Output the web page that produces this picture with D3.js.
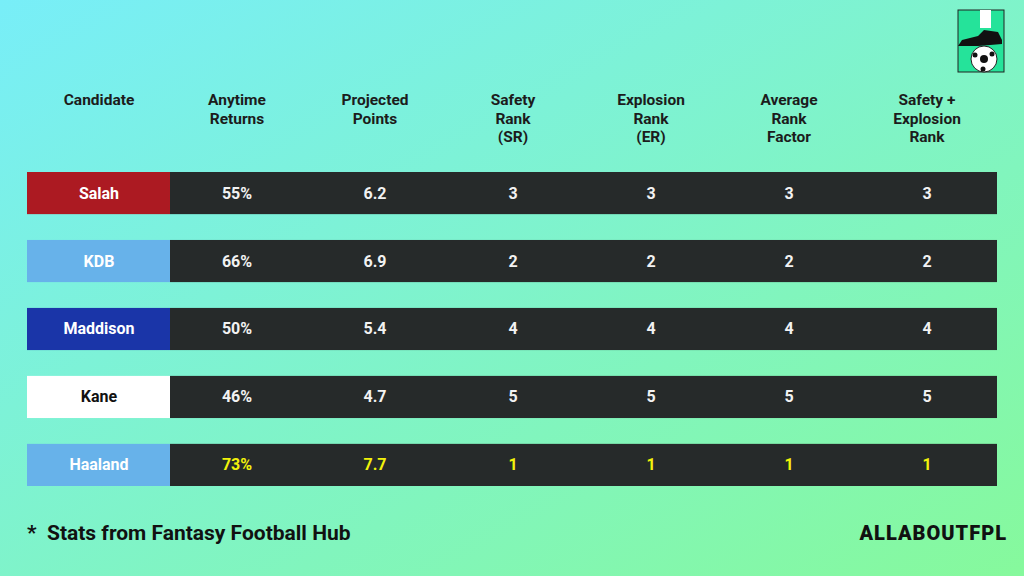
<!DOCTYPE html>
<html lang="en">
<head>
<meta charset="UTF-8">
<script src="https://d3js.org/d3.v7.min.js"></script>
<style>
  body { margin: 0; overflow: hidden; }
  svg { display: block; font-family: Roboto, "Noto Sans", sans-serif; }
</style>
</head>
<body>
<svg id="chart" width="1024" height="576"></svg>
<script>
  // table data
  const headers = [["Candidate"], ["Anytime", "Returns"], ["Projected", "Points"],
    ["Safety", "Rank", "(SR)"], ["Explosion", "Rank", "(ER)"],
    ["Average", "Rank", "Factor"], ["Safety +", "Explosion", "Rank"]];
  const players = ["Salah", "KDB", "Maddison", "Kane", "Haaland"];
  const playerColors = ["#ac1a22", "#67b2ea", "#1a35a8", "#ffffff", "#67b2ea"];
  const playerText = ["#fff", "#fff", "#fff", "#111", "#fff"];
  const returns = ["55%", "66%", "50%", "46%", "73%"];
  const points = ["6.2", "6.9", "5.4", "4.7", "7.7"];
  const safetyRank = [3, 2, 4, 5, 1];
  const explosionRank = [3, 2, 4, 5, 1];
  const avgRank = [3, 2, 4, 5, 1];
  const comboRank = [3, 2, 4, 5, 1];

  const svg = d3.select("#chart");
  const defs = svg.append("defs");
  const grad = defs.append("linearGradient").attr("id", "bg")
    .attr("x1", "0%").attr("y1", "0%").attr("x2", "100%").attr("y2", "100%");
  grad.append("stop").attr("offset", "0%").attr("stop-color", "#78eef8");
  grad.append("stop").attr("offset", "100%").attr("stop-color", "#86f99c");
  svg.append("rect").attr("width", 1024).attr("height", 576).attr("fill", "url(#bg)");

  const x = d3.scalePoint().domain(d3.range(headers.length)).range([99, 927]);
  // band of step 68, height 42
  const y = d3.scaleBand().domain(d3.range(players.length)).range([172, 172 + 68 * 5 - 26]).paddingInner(0.38).paddingOuter(0);

  // headers
  headers.forEach((lines, i) => {
    const t = svg.append("text").attr("x", x(i)).attr("y", 105)
      .attr("text-anchor", "middle").attr("font-size", 15.5).attr("font-weight", 700).attr("fill", "#1c1c1c");
    lines.forEach((l, j) => t.append("tspan").attr("x", x(i)).attr("dy", j ? 18.5 : 0).text(l));
  });

  const rows = svg.selectAll("g.row").data(players).join("g").attr("class", "row")
    .attr("transform", (d, i) => `translate(0,${y(i)})`);
  rows.append("rect").attr("x", 170).attr("width", 827).attr("height", y.bandwidth()).attr("fill", "#262a2a");
  rows.append("rect").attr("x", 27).attr("width", 143).attr("height", y.bandwidth())
    .attr("fill", (d, i) => playerColors[i]);
  rows.append("text").attr("x", x(0)).attr("y", y.bandwidth() / 2 + 5.5)
    .attr("text-anchor", "middle").attr("font-size", 16).attr("font-weight", 700)
    .attr("fill", (d, i) => playerText[i]).text(d => d);

  const cols = [returns, points, safetyRank, explosionRank, avgRank, comboRank];
  cols.forEach((vals, c) => {
    rows.append("text").attr("x", x(c + 1)).attr("y", y.bandwidth() / 2 + 5.5)
      .attr("text-anchor", "middle").attr("font-size", 16).attr("font-weight", 700)
      .attr("fill", (d, i) => players[i] === "Haaland" ? "#f2f20a" : "#f2f2f2")
      .text((d, i) => vals[i]);
  });

  // footer
  svg.append("text").attr("x", 27).attr("y", 540).attr("font-size", 21).attr("font-weight", 700)
    .attr("fill", "#111").attr("xml:space", "preserve").text("*  Stats from Fantasy Football Hub");
  svg.append("text").attr("x", 1007).attr("y", 540).attr("text-anchor", "end").attr("font-size", 20)
    .attr("font-weight", 900).attr("letter-spacing", 1).attr("fill", "#111").text("ALLABOUTFPL");

  // logo
  const logo = svg.append("g").attr("transform", "translate(958,10)");
  logo.append("rect").attr("width", 46).attr("height", 62).attr("fill", "#25e39a").attr("stroke", "#222").attr("stroke-width", 1);
  logo.append("rect").attr("x", 22).attr("y", 0).attr("width", 11).attr("height", 18).attr("fill", "#fff");
  logo.append("path").attr("d", "M0,36 L4,30 L20,26 L26,20 L40,22 L44,30 L44,34 L20,36 Z").attr("fill", "#111");
  logo.append("circle").attr("cx", 26).attr("cy", 49).attr("r", 13).attr("fill", "#fff").attr("stroke", "#222");
  logo.append("circle").attr("cx", 26).attr("cy", 49).attr("r", 4).attr("fill", "#111");
  logo.append("circle").attr("cx", 17).attr("cy", 45).attr("r", 2.5).attr("fill", "#111");
  logo.append("circle").attr("cx", 34).attr("cy", 44).attr("r", 2.5).attr("fill", "#111");
  logo.append("circle").attr("cx", 25).attr("cy", 59).attr("r", 2.5).attr("fill", "#111");
</script>
</body>
</html>
